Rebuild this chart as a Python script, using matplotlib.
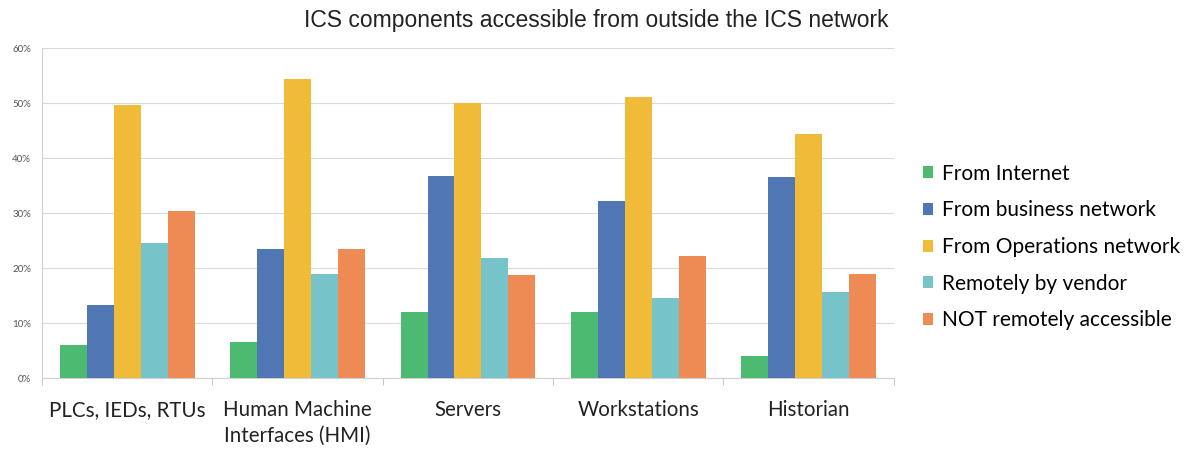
import numpy as np
import matplotlib
matplotlib.use("Agg")
from matplotlib import pyplot as plt
from matplotlib.ticker import PercentFormatter, FixedLocator

plt.rcParams['font.family'] = ['Lato', 'DejaVu Sans']

categories = ["PLCs, IEDs, RTUs", "Human Machine\nInterfaces (HMI)", "Servers", "Workstations", "Historian"]
series_names = ["From Internet", "From business network", "From Operations network",
                "Remotely by vendor", "NOT remotely accessible"]
from_internet = [6.0, 6.5, 12.0, 12.0, 4.0]
from_business = [13.3, 23.4, 36.7, 32.2, 36.5]
from_operations = [49.6, 54.4, 50.0, 51.1, 44.4]
by_vendor = [24.5, 18.9, 21.8, 14.5, 15.6]
not_remote = [30.4, 23.4, 18.7, 22.2, 18.9]
colors = ["#4dba72", "#5076b4", "#efbb38", "#77c3ca", "#ee8b55"]

values = [from_internet, from_business, from_operations, by_vendor, not_remote]

fig = plt.figure(figsize=(11.88, 4.5), dpi=100)
ax = fig.add_axes([0.0354, 0.16, 0.717, 0.733])

x = np.arange(len(categories))
w = 0.158
for i, (name, vals) in enumerate(zip(series_names, values)):
    ax.bar(x + (i - 2) * w, vals, width=w, color=colors[i], label=name, zorder=3)

ax.set_xlim(-0.5, len(categories) - 0.5)
ax.set_ylim(0, 60)
ax.set_yticks(np.arange(0, 61, 10))
ax.yaxis.set_major_formatter(PercentFormatter(decimals=0))
ax.tick_params(axis='y', length=0, labelsize=7, labelcolor='#555555', pad=8)
ax.grid(axis='y', color='#d9d9d9', linewidth=0.8, zorder=0)

ax.set_xticks(x)
ax.set_xticklabels(categories, fontsize=14.8, color='#222222', linespacing=1.35)
ax.tick_params(axis='x', length=0, pad=16)
# category separators below the axis
ax.xaxis.set_minor_locator(FixedLocator(np.arange(-0.5, len(categories), 1.0)))
ax.tick_params(axis='x', which='minor', length=5, color='#bfbfbf', direction='out')

for side in ['top', 'right']:
    ax.spines[side].set_visible(False)
for side in ['left', 'bottom']:
    ax.spines[side].set_color('#d0d0d0')
    ax.spines[side].set_linewidth(0.8)

fig.text(0.502, 0.955, "ICS components accessible from outside the ICS network",
         ha='center', va='center', fontsize=16.5, family=['Liberation Sans', 'DejaVu Sans'], color='#222222')

ax.legend(loc='center left', bbox_to_anchor=(1.012, 0.397), frameon=False, fontsize=15,
          handlelength=0.5, handleheight=0.5, handletextpad=0.4, labelspacing=0.8)

fig.savefig("out.png", dpi=100)
